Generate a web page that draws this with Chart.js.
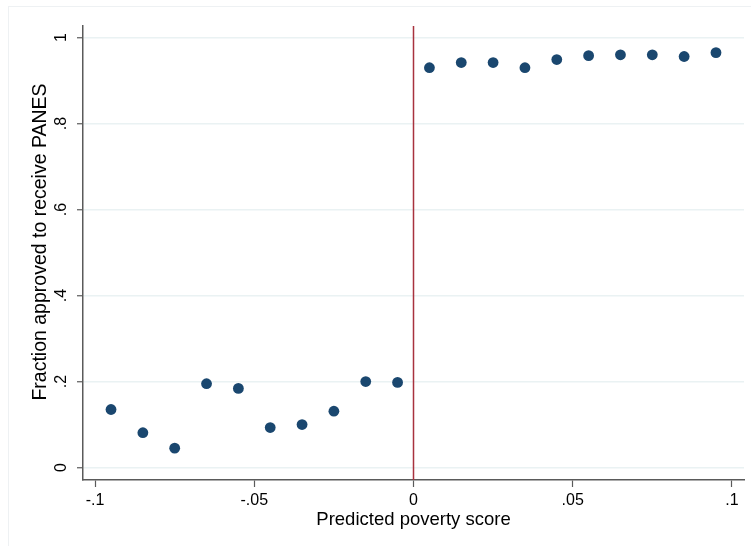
<!DOCTYPE html>
<html>
<head>
<meta charset="utf-8">
<script src="https://cdn.jsdelivr.net/npm/chart.js@4"></script>
<style>
  html, body { margin: 0; padding: 0; background: #fff; }
  #wrap { width: 751px; height: 546px; position: relative; }
</style>
</head>
<body>
<div id="wrap"><canvas id="c"></canvas></div>
<script>
// bin midpoints of the predicted poverty score
const binCenters = [-0.095, -0.085, -0.075, -0.065, -0.055, -0.045, -0.035, -0.025, -0.015, -0.005,
                    0.005, 0.015, 0.025, 0.035, 0.045, 0.055, 0.065, 0.075, 0.085, 0.095];
// fraction approved in each bin
const fractionApproved = [0.135, 0.081, 0.045, 0.195, 0.184, 0.093, 0.100, 0.131, 0.200, 0.198,
                          0.930, 0.942, 0.942, 0.930, 0.949, 0.958, 0.960, 0.960, 0.956, 0.965];
const cutoff = 0;

const xTickValues = [-0.1, -0.05, 0, 0.05, 0.1];
const xTickLabels = ['-.1', '-.05', '0', '.05', '.1'];
const yTickValues = [0, 0.2, 0.4, 0.6, 0.8, 1];
const yTickLabels = ['0', '.2', '.4', '.6', '.8', '1'];

const xTitle = 'Predicted poverty score';
const yTitle = 'Fraction approved to receive PANES';

const FONT = '"Liberation Sans", Arial, Helvetica, sans-serif';
const NAVY = '#1a476f';
const CRANBERRY = '#a8323e';
const GRID = '#eaf2f3';
const AXIS = '#5a5a5a';

const points = binCenters.map((x, i) => ({ x: x, y: fractionApproved[i] }));

// frame, cutoff line, rotated y labels, axis titles
const decor = {
  id: 'decor',
  beforeDraw(chart) {
    const ctx = chart.ctx;
    ctx.save();
    ctx.fillStyle = '#fff';
    ctx.fillRect(0, 0, chart.width, chart.height);
    ctx.strokeStyle = '#eef1f3';
    ctx.lineWidth = 1;
    ctx.strokeRect(8.5, 6.5, chart.width - 7, chart.height);
    ctx.restore();
  },
  beforeDatasetsDraw(chart) {
    const ctx = chart.ctx;
    const area = chart.chartArea;
    const px = chart.scales.x.getPixelForValue(cutoff);
    ctx.save();
    ctx.strokeStyle = CRANBERRY;
    ctx.lineWidth = 1.5;
    ctx.beginPath();
    ctx.moveTo(px, area.top);
    ctx.lineTo(px, area.bottom);
    ctx.stroke();
    ctx.restore();
  },
  afterDraw(chart) {
    const ctx = chart.ctx;
    const ys = chart.scales.y;
    const area = chart.chartArea;
    ctx.save();
    ctx.fillStyle = '#000';
    ctx.textAlign = 'center';
    ctx.textBaseline = 'middle';
    ctx.font = '16px ' + FONT;
    yTickValues.forEach((v, i) => {
      ctx.save();
      ctx.translate(62, ys.getPixelForValue(v));
      ctx.rotate(-Math.PI / 2);
      ctx.fillText(yTickLabels[i], 0, 0);
      ctx.restore();
    });
    ctx.font = '18.5px ' + FONT;
    ctx.fillText(xTitle, (area.left + area.right) / 2, 520);
    ctx.font = '19.5px ' + FONT;
    ctx.save();
    ctx.translate(41, 242);
    ctx.rotate(-Math.PI / 2);
    ctx.fillText(yTitle, 0, 0);
    ctx.restore();
    ctx.restore();
  }
};

new Chart(document.getElementById('c'), {
  type: 'scatter',
  data: {
    datasets: [{
      data: points,
      backgroundColor: NAVY,
      borderColor: NAVY,
      borderWidth: 0,
      pointRadius: 5.4,
      pointHoverRadius: 5.4
    }]
  },
  options: {
    responsive: true,
    maintainAspectRatio: false,
    animation: false,
    events: [],
    layout: { padding: { left: 0, top: 26, right: 7, bottom: 0 } },
    plugins: { legend: { display: false }, tooltip: { enabled: false } },
    scales: {
      x: {
        type: 'linear',
        min: -0.1038,
        max: 0.1038,
        afterBuildTicks: s => { s.ticks = xTickValues.map(v => ({ value: v })); },
        afterFit: s => { s.height = 66; },
        ticks: {
          color: '#000',
          font: { family: FONT, size: 16 },
          padding: 4,
          maxRotation: 0,
          callback: (v) => xTickLabels[xTickValues.indexOf(v)] ?? ''
        },
        grid: { display: true, drawOnChartArea: false, drawTicks: true, tickLength: 7, tickColor: AXIS, tickWidth: 1.2 },
        border: { display: true, color: AXIS, width: 1.5 }
      },
      y: {
        type: 'linear',
        min: -0.029,
        max: 1.027,
        afterBuildTicks: s => { s.ticks = yTickValues.map(v => ({ value: v })); },
        afterFit: s => { s.width = 83; },
        ticks: { color: 'rgba(0,0,0,0)', font: { family: FONT, size: 16 } },
        grid: { color: GRID, lineWidth: 1.5, drawTicks: true, tickLength: 6, tickColor: AXIS, tickWidth: 1.2 },
        border: { display: true, color: AXIS, width: 1.5 }
      }
    }
  },
  plugins: [decor]
});
</script>
</body>
</html>
